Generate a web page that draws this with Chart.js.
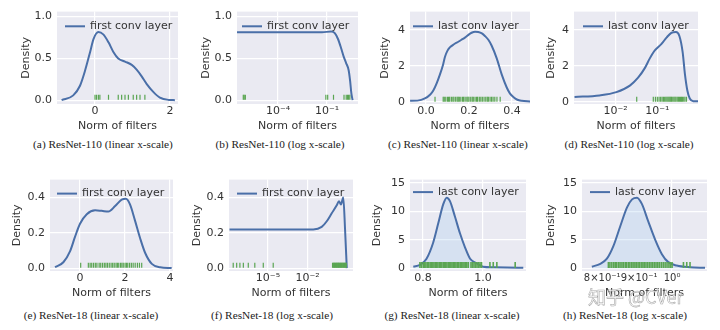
<!DOCTYPE html>
<html>
<head>
<meta charset="utf-8">
<script src="https://cdn.jsdelivr.net/npm/chart.js@4"></script>
<style>
body { margin: 0; background: #fff; width: 720px; height: 330px; position: relative; overflow: hidden; }
.cap { position: absolute; font-family: "Liberation Serif", serif; font-size: 11.3px; color: #222; white-space: nowrap; transform: translate(-50%, -50%); }
.mark { position: absolute; left: 588px; top: 283px; font-family: "Noto Sans CJK SC", sans-serif; font-size: 18px; color: rgba(255,255,255,0.8); -webkit-text-stroke: 0.6px rgba(110,110,110,0.6); white-space: nowrap; }
</style>
</head>
<body>
<script>
// (a) ResNet-110, first conv layer, linear x
var aNorm = [-0.89, -0.58, -0.4, -0.27, -0.13, -0.04, 0.09, 0.22, 0.36, 0.49, 0.62, 0.8, 0.98, 1.11, 1.24, 1.38, 1.56, 1.73, 1.96, 2.13];
var aDens = [0, 0.057, 0.172, 0.345, 0.575, 0.728, 0.812, 0.785, 0.69, 0.575, 0.498, 0.46, 0.421, 0.364, 0.287, 0.192, 0.096, 0.03, 0.003, 0];
var aRug = [0.0, 0.04, 0.09, 0.13, 0.36, 0.62, 0.71, 0.8, 0.89, 1.02, 1.11, 1.2, 1.33];

// (b) ResNet-110, first conv layer, log x
var bNorm = [3.1e-7, 1e-4, 0.05, 0.18, 0.3, 0.47, 0.76, 1.05, 1.5, 2.1, 2.6, 3.1, 3.7];
var bDens = [0.81, 0.81, 0.81, 0.82, 0.8, 0.73, 0.61, 0.52, 0.44, 0.36, 0.23, 0.08, 0];
var bRug = [7.5e-7, 8.5e-7, 1e-6, 0.085, 0.11, 0.25, 1.1, 1.5, 1.8, 2.1, 2.5];

// (c) ResNet-110, last conv layer, linear x
var cNorm = [-0.074, -0.04, -0.005, 0.02, 0.034, 0.05, 0.065, 0.08, 0.088, 0.1, 0.112, 0.13, 0.15, 0.165, 0.181, 0.2, 0.212, 0.228, 0.243, 0.26, 0.274, 0.29, 0.305, 0.329, 0.352, 0.375, 0.39, 0.406, 0.425, 0.445, 0.484];
var cDens = [0.07, 0.08, 0.2, 0.42, 0.64, 1.05, 1.53, 2.1, 2.5, 2.85, 3.04, 3.2, 3.34, 3.45, 3.57, 3.75, 3.84, 3.9, 3.88, 3.8, 3.66, 3.45, 3.13, 2.42, 1.53, 0.82, 0.48, 0.28, 0.13, 0.07, 0.03];
var cRug = [0.042, 0.08, 0.085, 0.092, 0.1, 0.105, 0.11, 0.118, 0.125, 0.13, 0.138, 0.145, 0.15, 0.155, 0.162, 0.17, 0.175, 0.182, 0.19, 0.195, 0.2, 0.208, 0.215, 0.22, 0.228, 0.235, 0.24, 0.248, 0.255, 0.262, 0.27, 0.278, 0.285, 0.29, 0.298, 0.305, 0.312, 0.32, 0.33, 0.345];

// (d) ResNet-110, last conv layer, log x
var dNorm = [0.00103, 0.0041, 0.0104, 0.0219, 0.0345, 0.05, 0.066, 0.087, 0.126, 0.166, 0.219, 0.28, 0.338, 0.405, 0.46, 0.525, 0.6, 0.73, 0.946];
var dDens = [0.28, 0.37, 0.55, 0.91, 1.35, 1.88, 2.42, 2.86, 3.22, 3.57, 3.84, 3.88, 3.66, 2.77, 1.53, 0.64, 0.2, 0.05, 0.04];
var dRug = [0.032, 0.08, 0.09, 0.1, 0.11, 0.12, 0.13, 0.14, 0.15, 0.16, 0.17, 0.18, 0.19, 0.2, 0.21, 0.22, 0.235, 0.25, 0.265, 0.28, 0.3, 0.32, 0.34, 0.36, 0.38, 0.4, 0.43, 0.46, 0.5];

// (e) ResNet-18, first conv layer, linear x
var eNorm = [-1.11, -0.74, -0.44, -0.22, 0.0, 0.3, 0.67, 0.96, 1.26, 1.56, 1.85, 2.04, 2.22, 2.44, 2.67, 2.89, 3.19, 3.56, 4.07];
var eDens = [0.005, 0.033, 0.096, 0.178, 0.251, 0.305, 0.327, 0.324, 0.32, 0.351, 0.387, 0.392, 0.36, 0.27, 0.169, 0.087, 0.024, 0.005, 0];
var eRug = [0.03, 0.37, 0.45, 0.52, 0.6, 0.68, 0.75, 0.85, 0.92, 1.0, 1.08, 1.15, 1.22, 1.3, 1.38, 1.45, 1.52, 1.6, 1.66, 1.72, 1.8, 1.86, 1.92, 2.0, 2.06, 2.12, 2.2, 2.28, 2.36, 2.45, 2.55, 2.64, 2.74];

// (f) ResNet-18, first conv layer, log x
var fNorm = [1.2e-8, 1e-4, 0.0275, 0.12, 0.29, 0.69, 1.66, 2.45, 3.47, 5.2, 7.1, 9.6];
var fDens = [0.219, 0.219, 0.219, 0.233, 0.265, 0.31, 0.355, 0.378, 0.36, 0.4, 0.22, 0];
var fRug = [2.3e-8, 4.2e-8, 7.4e-8, 1.35e-7, 3.2e-7, 1e-6, 4.4e-6, 2.5e-5, 0.8, 0.9, 1.0, 1.1, 1.2, 1.35, 1.5, 1.65, 1.8, 2.0, 2.2, 2.4, 2.6, 2.9, 3.2, 3.5, 3.9, 4.3, 4.8, 5.3, 5.9, 6.5, 7.2, 8.0, 8.8];

// (g) ResNet-18, last conv layer, linear x
var gNorm = [0.768, 0.79, 0.812, 0.834, 0.851, 0.868, 0.879, 0.89, 0.907, 0.923, 0.94, 0.957, 0.979, 1.0, 1.034, 1.08, 1.134];
var gDens = [0.3, 0.6, 1.7, 4.5, 7.9, 11.3, 12.4, 11.8, 9.0, 6.2, 3.7, 1.7, 0.9, 0.3, 0.2, 0.15, 0.1];
var gRug = [0.79, 0.795, 0.801, 0.806, 0.81, 0.815, 0.819, 0.824, 0.828, 0.833, 0.837, 0.842, 0.846, 0.85, 0.855, 0.859, 0.863, 0.868, 0.872, 0.876, 0.88, 0.885, 0.889, 0.893, 0.897, 0.902, 0.906, 0.91, 0.915, 0.919, 0.924, 0.928, 0.933, 0.937, 0.942, 0.946, 0.951, 0.96, 0.965, 0.97, 0.975, 0.98, 0.985, 0.99, 0.995, 1.023, 1.034, 1.046, 1.107];

// (h) ResNet-18, last conv layer, log x
var hNorm = [0.774, 0.795, 0.812, 0.829, 0.847, 0.866, 0.88, 0.894, 0.908, 0.927, 0.947, 0.968, 0.988, 1.015, 1.059, 1.111];
var hDens = [0.3, 0.8, 1.7, 3.9, 7.3, 10.7, 12.1, 12.4, 11.3, 8.2, 5.1, 2.5, 1.1, 0.5, 0.2, 0.1];
var hRug = [0.816, 0.82, 0.825, 0.83, 0.834, 0.838, 0.843, 0.847, 0.852, 0.856, 0.861, 0.865, 0.87, 0.874, 0.879, 0.883, 0.888, 0.892, 0.897, 0.901, 0.906, 0.911, 0.915, 0.92, 0.925, 0.93, 0.935, 0.94, 0.945, 0.95, 0.955, 0.96, 0.966, 0.972, 0.978, 0.984, 0.99, 0.995, 1.0, 1.037, 1.048, 1.059];

// tick values and labels
var xTicksA = [0, 2], xLabelsA = ['0', '2'];
var xTicksB = [1e-4, 1e-1], xLabelsB = ['10\u207B\u2074', '10\u207B\u00B9'];
var xTicksC = [0, 0.2, 0.4], xLabelsC = ['0.0', '0.2', '0.4'];
var xTicksD = [1e-2, 1e-1], xLabelsD = ['10\u207B\u00B2', '10\u207B\u00B9'];
var xTicksE = [0, 2, 4], xLabelsE = ['0', '2', '4'];
var xTicksF = [1e-5, 1e-2], xLabelsF = ['10\u207B\u2075', '10\u207B\u00B2'];
var xTicksG = [0.8, 1.0], xLabelsG = ['0.8', '1.0'];
var xTicksH = [0.8, 0.9, 1.0], xLabelsH = ['8\u00D710\u207B\u00B9', '9\u00D710\u207B\u00B9', '10\u2070'];
var yTicks1 = [0, 0.5, 1.0], yLabels1 = ['0.0', '0.5', '1.0'];
var yTicks2 = [0, 2, 4], yLabels2 = ['0', '2', '4'];
var yTicks3 = [0, 0.2, 0.4], yLabels3 = ['0.0', '0.2', '0.4'];
var yTicks4 = [0, 5, 10, 15], yLabels4 = ['0', '5', '10', '15'];

var layers = ['first conv layer', 'last conv layer'];
var captions = ['(a)  ResNet-110 (linear x-scale)', '(b)  ResNet-110 (log x-scale)', '(c)  ResNet-110 (linear x-scale)', '(d)  ResNet-110 (log x-scale)',
                '(e)  ResNet-18 (linear x-scale)', '(f)  ResNet-18 (log x-scale)', '(g)  ResNet-18 (linear x-scale)', '(h)  ResNet-18 (log x-scale)'];

Chart.defaults.font.family = '"DejaVu Sans", sans-serif';
Chart.defaults.font.size = 11;
Chart.defaults.color = '#333';

var lineColor = '#4a6fa8';
var rugColor = '#5aa552';

//Panel layout: plot box [left, right, top, bottom] in page pixels.
var panels = [
	{norm: aNorm, dens: aDens, rug: aRug, log: false, xr: [-1.013, 2.213], xt: xTicksA, xl: xLabelsA, yr: [-0.046, 1.057], yt: yTicks1, yl: yLabels1,
	 label: layers[0], box: [57, 178, 8, 104], gap: 30, leg: [8, 14.7], rugY: 0.035, rugR: 2.5, rugW: 1.2, fill: false, cap: [103, 144]},
	{norm: bNorm, dens: bDens, rug: bRug, log: true, xr: [3.09e-7, 7.9], xt: xTicksB, xl: xLabelsB, yr: [-0.046, 1.057], yt: yTicks1, yl: yLabels1,
	 label: layers[0], box: [237, 358, 8, 104], gap: 30, leg: [5, 14.7], rugY: 0.035, rugR: 2.5, rugW: 1.2, fill: false, cap: [280, 144]},
	{norm: cNorm, dens: cDens, rug: cRug, log: false, xr: [-0.0744, 0.4837], xt: xTicksC, xl: xLabelsC, yr: [-0.107, 5.01], yt: yTicks2, yl: yLabels2,
	 label: layers[1], box: [410, 530, 8, 104], gap: 24, leg: [3, 14.7], rugY: 0.16, rugR: 2.5, rugW: 1.2, fill: false, cap: [458, 144]},
	{norm: dNorm, dens: dDens, rug: dRug, log: true, xr: [0.001, 0.946], xt: xTicksD, xl: xLabelsD, yr: [-0.107, 5.01], yt: yTicks2, yl: yLabels2,
	 label: layers[1], box: [574, 698, 8, 104], gap: 22, leg: [9, 14.7], rugY: 0.16, rugR: 2.5, rugW: 1.2, fill: false, cap: [629, 144]},
	{norm: eNorm, dens: eDens, rug: eRug, log: false, xr: [-1.333, 4.13], xt: xTicksE, xl: xLabelsE, yr: [-0.0163, 0.5007], yt: yTicks3, yl: yLabels3,
	 label: layers[0], box: [50, 173, 176, 271], gap: 32, leg: [7, 14], rugY: 0.016, rugR: 2.5, rugW: 1.2, fill: false, cap: [91, 315]},
	{norm: fNorm, dens: fDens, rug: fRug, log: true, xr: [1.1e-8, 28.5], xt: xTicksF, xl: xLabelsF, yr: [-0.0163, 0.5007], yt: yTicks3, yl: yLabels3,
	 label: layers[0], box: [229, 353, 176, 271], gap: 31, leg: [8, 14], rugY: 0.016, rugR: 2.5, rugW: 1.2, fill: false, cap: [272, 315]},
	{norm: gNorm, dens: gDens, rug: gRug, log: false, xr: [0.757, 1.143], xt: xTicksG, xl: xLabelsG, yr: [-0.455, 15.56], yt: yTicks4, yl: yLabels4,
	 label: layers[1], box: [410, 526, 176, 271], gap: 32, leg: [3, 12.5], rugY: 0.59, rugR: 3, rugW: 1.6, fill: true, cap: [452, 315]},
	{norm: hNorm, dens: hDens, rug: hRug, log: true, xr: [0.75, 1.118], xt: xTicksH, xl: xLabelsH, yr: [-0.455, 15.56], yt: yTicks4, yl: yLabels4,
	 label: layers[1], box: [582, 707, 176, 271], gap: 30, leg: [8, 12.5], rugY: 0.59, rugR: 3, rugW: 1.6, fill: true, cap: [625, 315], xGrid: [1.0], xFont: 10}
];

//Lavender plot background.
var plotBg = {
	id: 'plotBg',
	beforeDraw: function(chart) {
		var a = chart.chartArea, ctx = chart.ctx;
		ctx.save();
		ctx.fillStyle = '#eaeaf2';
		ctx.fillRect(a.left, a.top, a.right - a.left, a.bottom - a.top);
		ctx.restore();
	}
};

//Legend drawn inside the plot, no frame.
var innerLegend = {
	id: 'innerLegend',
	afterDraw: function(chart, args, o) {
		var a = chart.chartArea, ctx = chart.ctx;
		var ds = chart.data.datasets[1];
		var x = a.left + o.dx, y = a.top + o.dy;
		ctx.save();
		ctx.strokeStyle = ds.borderColor;
		ctx.lineWidth = 2;
		ctx.beginPath();
		ctx.moveTo(x, y);
		ctx.lineTo(x + 20, y);
		ctx.stroke();
		ctx.fillStyle = '#333';
		ctx.font = '11px "DejaVu Sans"';
		ctx.textBaseline = 'middle';
		ctx.fillText(ds.label, x + 25, y);
		ctx.restore();
	}
};

function makeChart(p, idx) {
	var yw = p.gap + 7;
	var left = p.box[0] - yw, top = p.box[2] - 8;
	var w = p.box[1] + 8 - left, h = p.box[3] + 29 - top;

	var canvas = document.createElement('canvas');
	canvas.width = w;
	canvas.height = h;
	canvas.style.cssText = 'position:absolute;left:' + left + 'px;top:' + top + 'px;width:' + w + 'px;height:' + h + 'px';
	document.body.appendChild(canvas);

	var curve = [];
	for (var j = 0; j < p.norm.length; ++j) curve.push({x: p.norm[j], y: p.dens[j]});
	var rug = [];
	for (var k = 0; k < p.rug.length; ++k) rug.push({x: p.rug[k], y: p.rugY});

	new Chart(canvas, {
		type: 'scatter',
		data: {
			datasets: [
				{
					label: 'rug',
					data: rug,
					pointStyle: 'line',
					pointRotation: 90,
					pointRadius: p.rugR,
					pointBorderColor: rugColor,
					pointBorderWidth: p.rugW,
					showLine: false
				},
				{
					label: p.label,
					data: curve,
					showLine: true,
					borderColor: lineColor,
					borderWidth: 2,
					pointRadius: 0,
					cubicInterpolationMode: 'monotone',
					fill: p.fill ? 'origin' : false,
					backgroundColor: 'rgba(170,205,238,0.3)'
				}
			]
		},
		options: {
			responsive: false,
			animation: false,
			events: [],
			layout: { padding: { top: 8, right: 8, left: 0, bottom: 0 } },
			plugins: {
				legend: { display: false },
				tooltip: { enabled: false },
				innerLegend: { dx: p.leg[0], dy: p.leg[1] }
			},
			scales: {
				x: {
					type: p.log ? 'logarithmic' : 'linear',
					min: p.xr[0],
					max: p.xr[1],
					bounds: 'data',
					border: { display: false },
					grid: {
						drawTicks: false,
						lineWidth: 1.2,
						color: function(c) {
							if (!p.xGrid) return '#ffffff';
							return (c.tick && p.xGrid.indexOf(c.tick.value) >= 0) ? '#ffffff' : 'rgba(0,0,0,0)';
						}
					},
					ticks: {
						padding: 1,
						autoSkip: false,
						maxRotation: 0,
						font: { size: p.xFont || 11 },
						callback: function(v, i) { return p.xl[i]; }
					},
					afterBuildTicks: function(s) { s.ticks = p.xt.map(function(v) { return {value: v}; }); },
					afterFit: function(s) { s.height = 29; },
					title: { display: true, text: 'Norm of filters', padding: 0 }
				},
				y: {
					min: p.yr[0],
					max: p.yr[1],
					bounds: 'data',
					border: { display: false },
					grid: { drawTicks: false, lineWidth: 1.2, color: '#ffffff' },
					ticks: {
						padding: 5,
						callback: function(v, i) { return p.yl[i]; }
					},
					afterBuildTicks: function(s) { s.ticks = p.yt.map(function(v) { return {value: v}; }); },
					afterFit: function(s) { s.width = yw; },
					title: { display: true, text: 'Density', padding: 0 }
				}
			}
		},
		plugins: [plotBg, innerLegend]
	});

	var cap = document.createElement('div');
	cap.className = 'cap';
	cap.style.left = p.cap[0] + 'px';
	cap.style.top = p.cap[1] + 'px';
	cap.appendChild(document.createTextNode(captions[idx]));
	document.body.appendChild(cap);
}

for (var i = 0; i < panels.length; ++i) {
	makeChart(panels[i], i);
}

//Watermark over panel (h).
var mark = document.createElement('div');
mark.className = 'mark';
mark.appendChild(document.createTextNode('知乎 @CVer'));
document.body.appendChild(mark);
</script>
</body>
</html>
